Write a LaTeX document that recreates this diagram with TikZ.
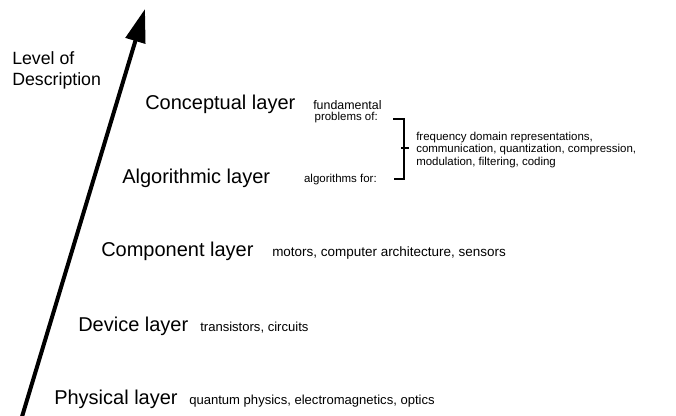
\documentclass[tikz,border=0pt]{standalone}
\usepackage{fontspec}
\setmainfont{Liberation Sans}
\usetikzlibrary{arrows.meta}
\begin{document}
\begin{tikzpicture}[x=0.75pt,y=-0.75pt,
  layername/.style={anchor=base west,inner sep=0pt,font=\fontsize{15}{18}\selectfont},
  layernote/.style={anchor=base west,inner sep=0pt,font=\fontsize{9.8}{12}\selectfont},
  smallnote/.style={inner sep=0pt,font=\fontsize{8.6}{9.3}\selectfont},
  axislabel/.style={anchor=base west,inner sep=0pt,align=left,font=\fontsize{13.3}{15.5}\selectfont},
  bracketline/.style={line width=0.9pt},
  axisarrow/.style={line width=3pt,-{Triangle[length=25pt,width=15pt]}}]
\useasboundingbox (0,0) rectangle (676,415);

% vertical axis: level of description
\coordinate (base) at (21,420);
\coordinate (top) at (145,9);
\draw[axisarrow] (base) -- (top);
\node[axislabel] (lvl) at (12,85) {Level of\\Description};

% layers
\node[layername] (concept) at (145,109) {Conceptual layer};
\node[layername] (algo) at (122,183) {Algorithmic layer};
\node[layername] (comp) at (101,256) {Component layer};
\node[layername] (dev) at (78,331) {Device layer};
\node[layername] (phys) at (54,404) {Physical layer};

\node[layernote,font=\fontsize{10.1}{12}\selectfont] (compnote) at (272,256) {motors, computer architecture, sensors};
\node[layernote] (devnote) at (200,331) {transistors, circuits};
\node[layernote] (physnote) at (189,404) {quantum physics, electromagnetics, optics};

% conceptual / algorithmic notes joined by a bracket
\node[smallnote,anchor=base west,font=\fontsize{9.3}{10}\selectfont] (fund) at (313,109) {fundamental};
\node[smallnote,anchor=base east] (probs) at (378,120) {problems of:};
\node[smallnote,anchor=base east] (algfor) at (377,182) {algorithms for:};
\coordinate (bt) at (404,119);
\coordinate (bb) at (404,179);
\coordinate (bml) at (401,148);
\coordinate (bmr) at (409,148);
\coordinate (btl) at (393,119);
\coordinate (bbl) at (394,179);
\draw[bracketline] (btl) -- (bt) -- (bb) -- (bbl);
\draw[bracketline] (bml) -- (bmr);
\node[smallnote,anchor=west,align=left] (topics) at (416,150)
  {frequency domain representations,\\communication, quantization, compression,\\modulation, filtering, coding};
\end{tikzpicture}
\end{document}
